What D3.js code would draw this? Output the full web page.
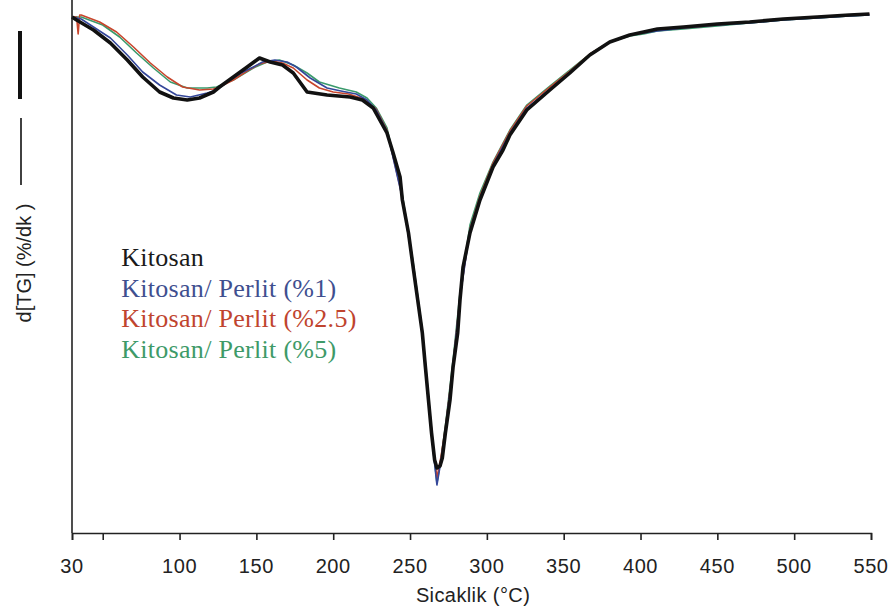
<!DOCTYPE html>
<html>
<head>
<meta charset="utf-8">
<script src="https://cdn.jsdelivr.net/npm/d3@7"></script>
<style>
  html, body { margin: 0; padding: 0; background: #fff; }
  svg { display: block; }
</style>
</head>
<body>
<div id="chart"></div>
<script>
// DTG curves (temperature in °C, d[TG] in %/dk)
var kitosanT = [30, 33, 44, 55, 66, 76, 87, 96, 105, 113, 122, 126, 135, 144, 152, 159, 167, 174, 183, 196,
    211, 219, 226, 235, 239, 243.5, 245, 249, 252, 255, 258, 260, 262, 264, 266, 267.5, 269.5, 271, 273, 276,
    278, 281, 282.5, 284.5, 289, 295.5, 304, 310.5, 315, 326, 341, 354, 367, 380, 393, 402, 411, 428, 450, 471,
    493, 515, 536, 549];
var kitosanV = [-0.17, -0.20, -0.30, -0.43, -0.60, -0.77, -0.92, -0.98, -1.00, -0.98, -0.92, -0.87, -0.77, -0.67, -0.58, -0.62, -0.65, -0.73, -0.92, -0.95,
    -0.97, -1.00, -1.08, -1.33, -1.53, -1.77, -2.00, -2.33, -2.67, -3.00, -3.33, -3.67, -4.00, -4.33, -4.60, -4.68, -4.66, -4.58, -4.33, -4.00,
    -3.67, -3.33, -3.00, -2.67, -2.33, -2.00, -1.67, -1.50, -1.35, -1.10, -0.90, -0.73, -0.55, -0.42, -0.35, -0.32, -0.29, -0.27, -0.24, -0.22,
    -0.19, -0.17, -0.15, -0.14];

var perlit1T = [30, 36, 44, 55, 66, 76, 87, 98, 107, 118, 124, 131, 140, 148, 154, 162, 170, 176, 185, 196,
    205, 215, 222, 228, 235, 245, 252, 258, 262, 265, 267.5, 270, 273, 278, 282.5, 289, 295.5, 304, 315, 326,
    341, 354, 367, 380, 393, 402, 411, 428, 450, 471, 493, 515, 536, 549];
var perlit1V = [-0.17, -0.19, -0.27, -0.38, -0.55, -0.72, -0.85, -0.95, -0.97, -0.93, -0.90, -0.82, -0.73, -0.67, -0.62, -0.60, -0.62, -0.67, -0.78, -0.88,
    -0.91, -0.94, -1.00, -1.10, -1.31, -1.98, -2.65, -3.33, -4.00, -4.50, -4.85, -4.62, -4.30, -3.65, -2.98, -2.30, -1.98, -1.65, -1.33, -1.08,
    -0.89, -0.72, -0.55, -0.42, -0.35, -0.33, -0.31, -0.28, -0.25, -0.23, -0.20, -0.18, -0.16, -0.15];

var perlit25T = [30, 33, 34, 35, 36, 48, 59, 70, 81, 92, 102, 113, 122, 126, 135, 144, 152, 160, 167, 174,
    183, 191, 200, 210, 220, 228, 235, 245, 252, 258, 262, 265, 267.5, 270, 273, 278, 282.5, 289, 295.5, 304,
    315, 326, 341, 354, 367, 380, 393, 402, 411, 428, 450, 471, 493, 515, 536, 549];
var perlit25V = [-0.17, -0.17, -0.34, -0.15, -0.15, -0.22, -0.32, -0.47, -0.63, -0.77, -0.87, -0.90, -0.89, -0.87, -0.80, -0.71, -0.64, -0.61, -0.63, -0.68,
    -0.80, -0.88, -0.92, -0.94, -0.99, -1.09, -1.30, -1.97, -2.64, -3.32, -3.98, -4.45, -4.78, -4.58, -4.28, -3.64, -2.97, -2.29, -1.96, -1.63,
    -1.31, -1.06, -0.87, -0.71, -0.54, -0.42, -0.35, -0.33, -0.30, -0.28, -0.25, -0.22, -0.19, -0.17, -0.15, -0.14];

var perlit5T = [30, 36, 50, 61, 72, 83, 94, 105, 118, 124, 135, 148, 157, 165, 174, 183, 191, 204, 215, 222,
    228, 235, 245, 252, 258, 262, 265, 267.5, 270, 273, 278, 282.5, 289, 295.5, 304, 315, 326, 341, 354, 367,
    380, 393, 402, 411, 428, 450, 471, 493, 515, 536, 549];
var perlit5V = [-0.17, -0.17, -0.25, -0.37, -0.53, -0.68, -0.82, -0.88, -0.88, -0.87, -0.80, -0.68, -0.62, -0.60, -0.65, -0.73, -0.82, -0.88, -0.92, -0.98,
    -1.08, -1.28, -1.95, -2.62, -3.30, -3.96, -4.48, -4.83, -4.60, -4.26, -3.60, -2.93, -2.25, -1.93, -1.62, -1.30, -1.05, -0.86, -0.70, -0.54,
    -0.42, -0.36, -0.34, -0.31, -0.29, -0.26, -0.23, -0.20, -0.18, -0.16, -0.15];

var seriesNames = ["Kitosan", "Kitosan/ Perlit (%1)", "Kitosan/ Perlit (%2.5)", "Kitosan/ Perlit (%5)"];
var lineColors = ["#111111", "#34479a", "#c8452c", "#3a9a6c"];
var textColors = ["#1a1a1a", "#3f4f8f", "#c0442e", "#3e9a68"];
var xTicks = [30, 50, 100, 150, 200, 250, 300, 350, 400, 450, 500, 550];
var xTickLabels = [30, 100, 150, 200, 250, 300, 350, 400, 450, 500, 550];

var width = 891, height = 615;
var margin = { top: 0, right: 20, bottom: 82, left: 72 };
var innerWidth = width - margin.left - margin.right;
var innerHeight = height - margin.top - margin.bottom;

function zipSeries(ts, vs) {
    return ts.map(function (t, i) { return { t: t, v: vs[i] }; });
}

function createChart() {
    var series = [
        zipSeries(kitosanT, kitosanV),
        zipSeries(perlit1T, perlit1V),
        zipSeries(perlit25T, perlit25V),
        zipSeries(perlit5T, perlit5V)
    ];

    var xScale = d3.scaleLinear()
        .domain([30, 550])
        .range([0, innerWidth]);

    var yScale = d3.scaleLinear()
        .domain([0, -5.33])
        .range([0, innerHeight]);

    var svg = d3.select("#chart")
        .append("svg")
        .attr("width", width)
        .attr("height", height)
        .attr("font-family", "Arial, Liberation Sans, sans-serif");

    var line = d3.line()
        .x(d => margin.left + xScale(d.t))
        .y(d => margin.top + yScale(d.v));

    // coloured samples first, black on top
    [3, 2, 1, 0].forEach(function (i) {
        svg.append("path")
            .datum(series[i])
            .attr("fill", "none")
            .attr("stroke", lineColors[i])
            .attr("stroke-width", i == 0 ? 3.6 : 1.6)
            .attr("stroke-linejoin", "round")
            .attr("d", line);
    });

    // axes (tick marks from d3, labels written below)
    var xAxis = d3.axisBottom(xScale)
        .tickValues(xTicks)
        .tickSize(7)
        .tickFormat("");

    var gx = svg.append("g")
        .attr("transform", "translate(" + margin.left + "," + (margin.top + innerHeight) + ")")
        .call(xAxis);
    gx.selectAll(".tick text").remove();
    gx.select(".domain").attr("stroke", "#222").attr("stroke-width", 1.6);
    gx.selectAll(".tick line").attr("stroke", "#222").attr("stroke-width", 1.6);

    svg.selectAll(".xlabel")
        .data(xTickLabels)
        .join("text")
        .attr("class", "xlabel")
        .attr("x", d => margin.left + xScale(d))
        .attr("y", margin.top + innerHeight + 40)
        .attr("text-anchor", "middle")
        .attr("fill", "#222")
        .attr("font-size", 20)
        .attr("letter-spacing", 0.6)
        .text(d => d);

    svg.append("line")
        .attr("x1", margin.left).attr("x2", margin.left)
        .attr("y1", margin.top).attr("y2", margin.top + innerHeight)
        .attr("stroke", "#222")
        .attr("stroke-width", 1.6);

    svg.append("text")
        .attr("x", margin.left + xScale(291))
        .attr("y", margin.top + innerHeight + 69)
        .attr("text-anchor", "middle")
        .attr("fill", "#222")
        .attr("font-size", 20)
        .attr("letter-spacing", 0.4)
        .text("Sicaklik (°C)");

    // y label with the two line keys
    svg.append("text")
        .attr("transform", "translate(31,263) rotate(-90)")
        .attr("text-anchor", "middle")
        .attr("fill", "#222")
        .attr("font-size", 20)
        .text("d[TG] (%/dk )");

    svg.append("line")
        .attr("x1", 21).attr("x2", 21)
        .attr("y1", 118).attr("y2", 185)
        .attr("stroke", "#111").attr("stroke-width", 1.6);

    svg.append("line")
        .attr("x1", 20).attr("x2", 20)
        .attr("y1", 31).attr("y2", 99)
        .attr("stroke", "#111").attr("stroke-width", 4);

    // legend
    svg.selectAll(".legend")
        .data(seriesNames)
        .join("text")
        .attr("class", "legend")
        .attr("x", margin.left + xScale(62))
        .attr("y", (d, i) => 266 + i * 30.5)
        .attr("fill", (d, i) => textColors[i])
        .attr("font-family", "Liberation Serif, Times New Roman, serif")
        .attr("font-size", 26)
        .attr("letter-spacing", 0.3)
        .text(d => d);
}

createChart();
</script>
</body>
</html>
